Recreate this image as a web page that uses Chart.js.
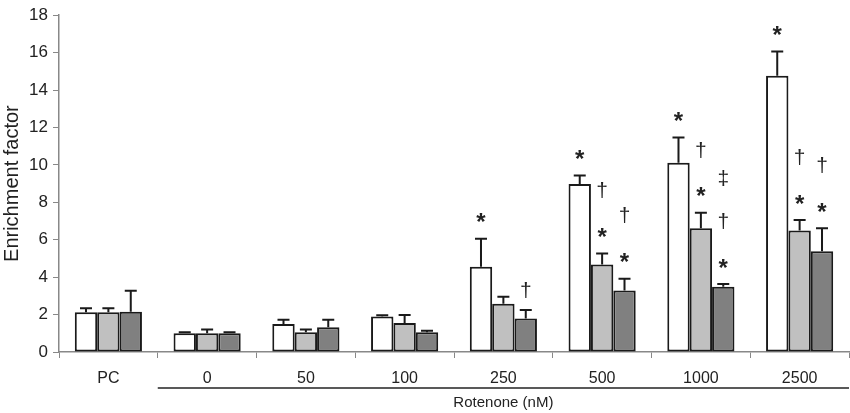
<!DOCTYPE html>
<html>
<head>
<meta charset="utf-8">
<script src="https://cdn.jsdelivr.net/npm/chart.js@4/dist/chart.umd.min.js"></script>
<style>
  html, body { margin: 0; padding: 0; background: #fff; }
  #wrap { width: 850px; height: 413px; position: relative; }
</style>
</head>
<body>
<div id="wrap"><canvas id="barChart" width="850" height="413"></canvas></div>
<script>
// groups on the x axis
const groups = ["PC", "0", "50", "100", "250", "500", "1000", "2500"];
const yTicks = [0, 2, 4, 6, 8, 10, 12, 14, 16, 18];

// bar heights (enrichment factor)
const whiteValues = [2.13, 1.0, 1.49, 1.9, 4.56, 8.98, 10.11, 14.76];
const lightValues = [2.13, 1.0, 1.06, 1.55, 2.58, 4.67, 6.61, 6.49];
const darkValues  = [2.15, 1.0, 1.32, 1.06, 1.79, 3.29, 3.49, 5.39];

// top of each error bar
const whiteErrTop = [2.34, 1.06, 1.72, 1.96, 6.05, 9.43, 11.46, 16.06];
const lightErrTop = [2.34, 1.2, 1.2, 1.98, 2.95, 5.27, 7.44, 7.06];
const darkErrTop  = [3.28, 1.06, 1.72, 1.13, 2.25, 3.92, 3.63, 6.62];

// significance marks, listed from bottom to top
const whiteMarks = ["", "", "", "", "*", "*", "*", "*"];
const lightMarks = ["", "", "", "", "", "*†", "*†", "*†"];
const darkMarks  = ["", "", "", "", "†", "*†", "*†‡", "*†"];

const xTitle = "Rotenone (nM)";
const yTitle = "Enrichment factor";

const errTops = [whiteErrTop, lightErrTop, darkErrTop];
const marks = [whiteMarks, lightMarks, darkMarks];

const extrasPlugin = {
    id: "extras",
    afterDatasetsDraw(chart) {
        const ctx = chart.ctx;
        const y = chart.scales.y;
        const x = chart.scales.x;
        ctx.save();
        chart.data.datasets.forEach((ds, di) => {
            const meta = chart.getDatasetMeta(di);
            meta.data.forEach((bar, i) => {
                const top = y.getPixelForValue(errTops[di][i]);
                // error bar
                ctx.strokeStyle = "#1a1a1a";
                ctx.lineWidth = 2;
                ctx.beginPath();
                ctx.moveTo(bar.x, bar.y);
                ctx.lineTo(bar.x, top);
                ctx.moveTo(bar.x - 6, top);
                ctx.lineTo(bar.x + 6, top);
                ctx.stroke();
                // marks
                const m = Array.from(marks[di][i]);
                ctx.fillStyle = "#222";
                ctx.textAlign = "center";
                ctx.textBaseline = "middle";
                m.forEach((s, k) => {
                    let dy = 0;
                    if (s === "*") {
                        ctx.font = "bold 24px 'Liberation Sans'";
                        dy = 4;
                    } else {
                        ctx.font = "21px 'Liberation Sans'";
                    }
                    ctx.fillText(s, bar.x, top - 19 - k * 43 + dy);
                });
            });
        });
        // rotenone bracket line and title
        const left = x.getPixelForValue(0) + (x.getPixelForValue(1) - x.getPixelForValue(0)) / 2;
        const right = chart.chartArea.right;
        ctx.strokeStyle = "#222";
        ctx.lineWidth = 1.5;
        ctx.beginPath();
        ctx.moveTo(left, 388);
        ctx.lineTo(right, 388);
        ctx.stroke();
        ctx.fillStyle = "#222";
        ctx.font = "15px 'Liberation Sans'";
        ctx.textAlign = "center";
        ctx.textBaseline = "middle";
        ctx.fillText(xTitle, (left + right) / 2, 403);
        ctx.restore();
    }
};

const barStyle = (color, data) => ({
    data: data,
    backgroundColor: color,
    borderColor: "#1a1a1a",
    borderWidth: 2,
    borderSkipped: false,
    categoryPercentage: 0.68,
    barPercentage: 1.0
});

new Chart(document.getElementById("barChart"), {
    type: "bar",
    data: {
        labels: groups,
        datasets: [
            barStyle("#ffffff", whiteValues),
            barStyle("#c0c0c0", lightValues),
            barStyle("#808080", darkValues)
        ]
    },
    options: {
        responsive: false,
        animation: false,
        layout: { padding: { top: 6, right: 1, left: 0, bottom: 0 } },
        plugins: {
            legend: { display: false },
            tooltip: { enabled: false }
        },
        scales: {
            x: {
                grid: { offset: true, drawOnChartArea: false, tickLength: 6, color: "#888", tickWidth: 1 },
                border: { color: "#888", width: 1.5 },
                ticks: { color: "#222", font: { family: "Liberation Sans", size: 16 }, padding: 11 },
                afterFit(scale) { scale.height = 61; }
            },
            y: {
                min: 0,
                max: 18,
                afterBuildTicks(scale) { scale.ticks = yTicks.map(v => ({ value: v })); },
                grid: { drawOnChartArea: false, tickLength: 6, color: "#888" },
                border: { color: "#888", width: 1.5 },
                ticks: { color: "#222", font: { family: "Liberation Sans", size: 17 }, padding: 5 },
                title: {
                    display: true,
                    text: yTitle,
                    color: "#222",
                    font: { family: "Liberation Sans", size: 20 },
                    padding: { top: 0, bottom: 2 }
                },
                afterFit(scale) { scale.width = 59; }
            }
        }
    },
    plugins: [extrasPlugin]
});
</script>
</body>
</html>
